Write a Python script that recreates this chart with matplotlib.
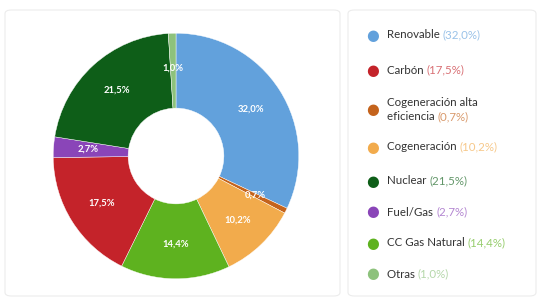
import matplotlib
matplotlib.use("Agg")
import matplotlib.pyplot as plt
from matplotlib.patches import FancyBboxPatch
import numpy as np

plt.rcParams['font.family'] = ['Lato', 'DejaVu Sans']

# Data (clockwise order in the donut)
pie_labels = ["Renovable", "Cogeneración alta eficiencia", "Cogeneración",
              "CC Gas Natural", "Carbón", "Fuel/Gas", "Nuclear", "Otras"]
pie_values = [32.0, 0.7, 10.2, 14.4, 17.5, 2.7, 21.5, 1.0]
colors = {
    "Renovable": "#62a1dc",
    "Cogeneración alta eficiencia": "#c4631c",
    "Cogeneración": "#f2ab4c",
    "CC Gas Natural": "#5eb21f",
    "Carbón": "#c4232a",
    "Fuel/Gas": "#8a45b8",
    "Nuclear": "#0e5e18",
    "Otras": "#8dc27c",
}
legend_order = ["Renovable", "Carbón", "Cogeneración alta eficiencia", "Cogeneración",
                "Nuclear", "Fuel/Gas", "CC Gas Natural", "Otras"]
legend_text = {
    "Cogeneración alta eficiencia": "Cogeneración alta\neficiencia",
}

W, H = 540, 300
fig = plt.figure(figsize=(W / 100, H / 100), dpi=100)
fig.patch.set_facecolor("white")

def fx(x):
    return x / W

def fy(y):
    return 1 - y / H

# Cards
for (x0, y0, x1, y1) in [(5, 10, 340, 296), (348, 10, 536, 296)]:
    card = FancyBboxPatch((fx(x0), fy(y1)), fx(x1 - x0), (y1 - y0) / H,
                          boxstyle="round,pad=0,rounding_size=0.012",
                          transform=fig.transFigure, facecolor="white",
                          edgecolor="#ececec", linewidth=0.8, zorder=-10)
    fig.patches.append(card)

# Donut
cx, cy, r = 176, 156, 124
ax = fig.add_axes([fx(cx - r), fy(cy + r), fx(2 * r), 2 * r / H])
ax.set_aspect("equal")
ax.patch.set_alpha(0)
wedges, _ = ax.pie(pie_values, colors=[colors[l] for l in pie_labels],
                   startangle=90, counterclock=False, radius=1.0,
                   wedgeprops=dict(width=0.61, edgecolor="white", linewidth=0.3))
theta = 90.0
for lab, v in zip(pie_labels, pie_values):
    mid = np.deg2rad(theta - v * 3.6 / 2)
    rr = 0.72
    ax.text(rr * np.cos(mid), rr * np.sin(mid), f"{v:.1f}%".replace(".", ","),
            ha="center", va="center", color="white", fontsize=6.8, fontweight="bold")
    theta -= v * 3.6
ax.set_xlim(-1.01, 1.01)
ax.set_ylim(-1.01, 1.01)
ax.axis("off")

# Legend
legend_y = [35, 70, 110, 147, 181, 212, 243, 274]
fs = 8.3
for lab, y in zip(legend_order, legend_y):
    col = colors[lab]
    fig.text(fx(373), fy(y), "●", color=col, fontsize=10.5, ha="center", va="center",
             family=['DejaVu Sans'])
    v = pie_values[pie_labels.index(lab)]
    pct = f"({v:.1f}%)".replace(".", ",")
    name = legend_text.get(lab, lab)
    if "\n" in name:
        l1, l2 = name.split("\n")
        fig.text(fx(387), fy(y - 7), l1, color="#333333", fontsize=fs,
                 ha="left", va="center")
        t = fig.text(fx(387), fy(y + 7), l2 + " ", color="#333333", fontsize=fs,
                     ha="left", va="center")
    else:
        t = fig.text(fx(387), fy(y), name + " ", color="#333333", fontsize=fs,
                     ha="left", va="center")
    fig.canvas.draw()
    bb = t.get_window_extent()
    px = bb.x1
    fig.text(px / W, t.get_position()[1], pct, color=col, alpha=0.65,
             fontsize=fs, ha="left", va="center")

fig.savefig("out.png", dpi=100, facecolor="white")
